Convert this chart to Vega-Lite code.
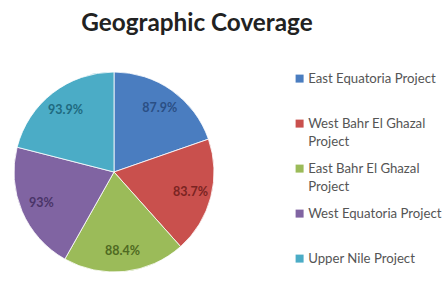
{
  "$schema": "https://vega.github.io/schema/vega-lite/v6.json",
  "width": 228,
  "height": 200,
  "padding": {"left": 0, "top": 12, "right": 2, "bottom": 2},
  "background": "white",
  "title": {
    "text": "Geographic Coverage",
    "font": "Lato",
    "fontSize": 24.3,
    "fontWeight": "bold",
    "color": "#222222",
    "anchor": "middle",
    "frame": "group",
    "offset": 34,
    "dx": 83
  },
  "data": {
    "values": [
      {"project": "East Equatoria Project", "coverage": 87.9, "label": "87.9%", "order": 1},
      {"project": "West Bahr El Ghazal Project", "coverage": 83.7, "label": "83.7%", "order": 2},
      {"project": "East Bahr El Ghazal Project", "coverage": 88.4, "label": "88.4%", "order": 3},
      {"project": "West Equatoria Project", "coverage": 93, "label": "93%", "order": 4},
      {"project": "Upper Nile Project", "coverage": 93.9, "label": "93.9%", "order": 5}
    ]
  },
  "encoding": {
    "theta": {"field": "coverage", "type": "quantitative", "stack": true},
    "order": {"field": "order", "type": "quantitative"}
  },
  "layer": [
    {
      "mark": {"type": "arc", "outerRadius": 100, "stroke": "white", "strokeWidth": 0.8},
      "encoding": {
        "color": {
          "field": "project",
          "type": "nominal",
          "sort": ["East Equatoria Project", "West Bahr El Ghazal Project", "East Bahr El Ghazal Project", "West Equatoria Project", "Upper Nile Project"],
          "scale": {
            "domain": ["East Equatoria Project", "West Bahr El Ghazal Project", "East Bahr El Ghazal Project", "West Equatoria Project", "Upper Nile Project"],
            "range": ["#4a7dc0", "#c9504d", "#9bbb59", "#8064a2", "#4bacc6"]
          },
          "legend": {
            "title": null,
            "orient": "right",
            "offset": 65,
            "symbolType": "square",
            "symbolSize": 64,
            "symbolStrokeWidth": 0,
            "labelFont": "Lato",
            "labelFontSize": 13.2,
            "labelOffset": 2,
            "labelColor": "#555555",
            "labelLimit": 200,
            "rowPadding": 13,
            "labelExpr": "datum.label == 'West Bahr El Ghazal Project' ? ['West Bahr El Ghazal', 'Project'] : datum.label == 'East Bahr El Ghazal Project' ? ['East Bahr El Ghazal', 'Project'] : [datum.label, ' ']"
          }
        }
      }
    },
    {
      "mark": {"type": "text", "radius": 79, "font": "Lato", "fontSize": 12.5, "fontWeight": "bold"},
      "encoding": {
        "text": {"field": "label"},
        "color": {
          "field": "label",
          "type": "nominal",
          "scale": {
            "domain": ["87.9%", "83.7%", "88.4%", "93%", "93.9%"],
            "range": ["#2a4f85", "#7a2422", "#4f6a22", "#4a3468", "#1f6a80"]
          },
          "legend": null
        }
      }
    }
  ],
  "resolve": {"scale": {"color": "independent"}},
  "config": {"view": {"stroke": null}, "style": {"guide-label": {"lineHeight": 18}}}
}
